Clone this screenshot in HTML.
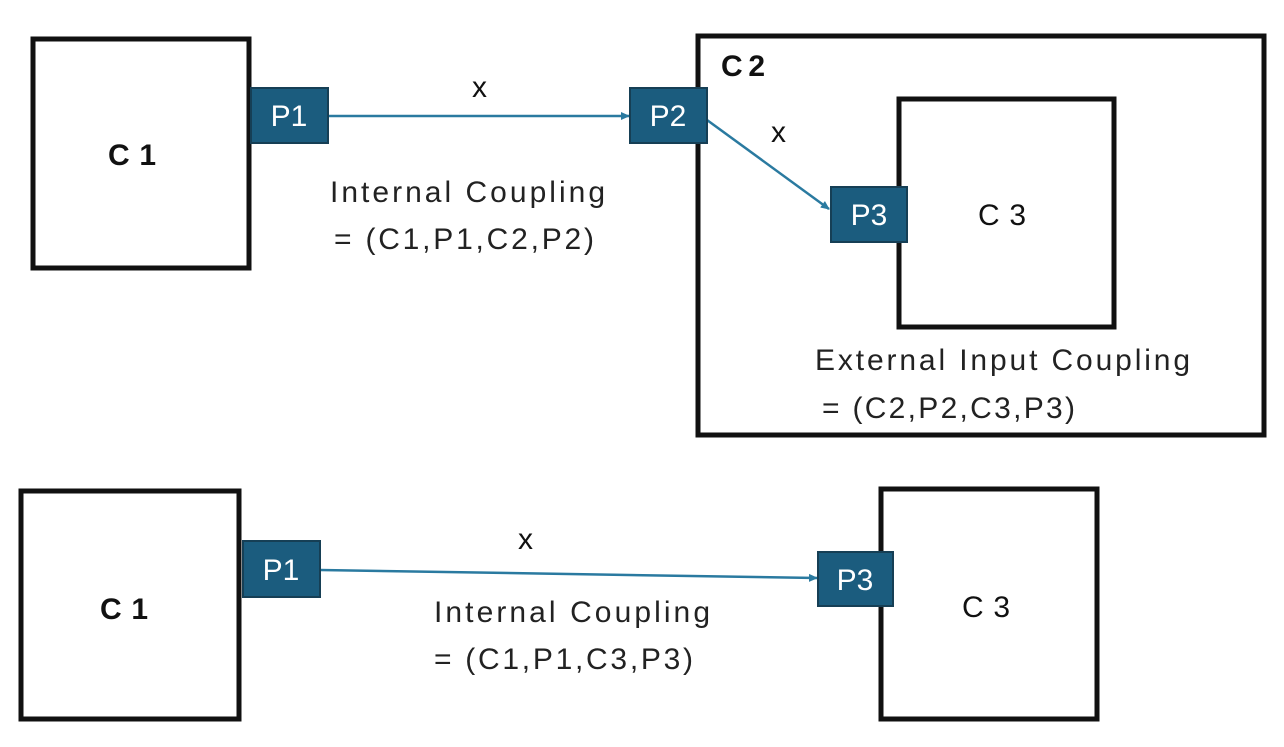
<!DOCTYPE html>
<html><head><meta charset="utf-8"><style>
body{margin:0;background:#fff;}
svg{display:block;font-family:"Liberation Sans",sans-serif;}
</style></head><body>
<svg width="1284" height="747" viewBox="0 0 1284 747" xmlns="http://www.w3.org/2000/svg">
<defs><marker id="a" markerWidth="10" markerHeight="10" refX="8" refY="5" orient="auto" markerUnits="userSpaceOnUse"><path d="M0,1 L9,5 L0,9z" fill="#2a7aa0"/></marker></defs>
<g fill="none" stroke="#111" stroke-width="5">
<rect x="33" y="39" width="216" height="229"/>
<rect x="698" y="36" width="566" height="399"/>
<rect x="899" y="99" width="215" height="228"/>
<rect x="21" y="491" width="218" height="228"/>
<rect x="881" y="489" width="216" height="230"/>
</g>
<g stroke="#2a7aa0" stroke-width="2.5" fill="none" marker-end="url(#a)">
<line x1="328" y1="116" x2="629" y2="116"/>
<line x1="707" y1="120" x2="829" y2="209"/>
<line x1="320" y1="570" x2="817" y2="578"/>
</g>
<g fill="#1b5c7e" stroke="#163f55" stroke-width="2">
<rect x="251" y="88" width="77" height="55"/>
<rect x="630" y="88" width="77" height="55"/>
<rect x="831" y="187" width="76" height="55"/>
<rect x="243" y="541" width="77" height="56"/>
<rect x="818" y="552" width="75" height="54"/>
</g>
<g fill="#fff" font-size="30" text-anchor="middle">
<text x="289" y="126">P1</text><text x="668" y="126">P2</text><text x="869" y="225">P3</text>
<text x="281" y="580">P1</text><text x="855" y="590">P3</text>
</g>
<g fill="#111" font-size="30" font-weight="bold">
<text x="108" y="165" textLength="48">C1</text><text x="721" y="76" textLength="44">C2</text>
<text x="100" y="619" textLength="48">C1</text>
</g>
<g fill="#111" font-size="30">
<text x="978" y="225" textLength="48">C3</text><text x="962" y="617" textLength="48">C3</text>
<text x="472" y="97">x</text><text x="771" y="142">x</text><text x="518" y="549">x</text>
</g>
<g fill="#222" font-size="30">
<text x="330" y="202" textLength="275">Internal Coupling</text>
<text x="334" y="249" textLength="260">= (C1,P1,C2,P2)</text>
<text x="815" y="370" textLength="375">External Input Coupling</text>
<text x="822" y="418" textLength="253">= (C2,P2,C3,P3)</text>
<text x="434" y="622" textLength="276">Internal Coupling</text>
<text x="434" y="669" textLength="259">= (C1,P1,C3,P3)</text>
</g>
</svg>
</body></html>
